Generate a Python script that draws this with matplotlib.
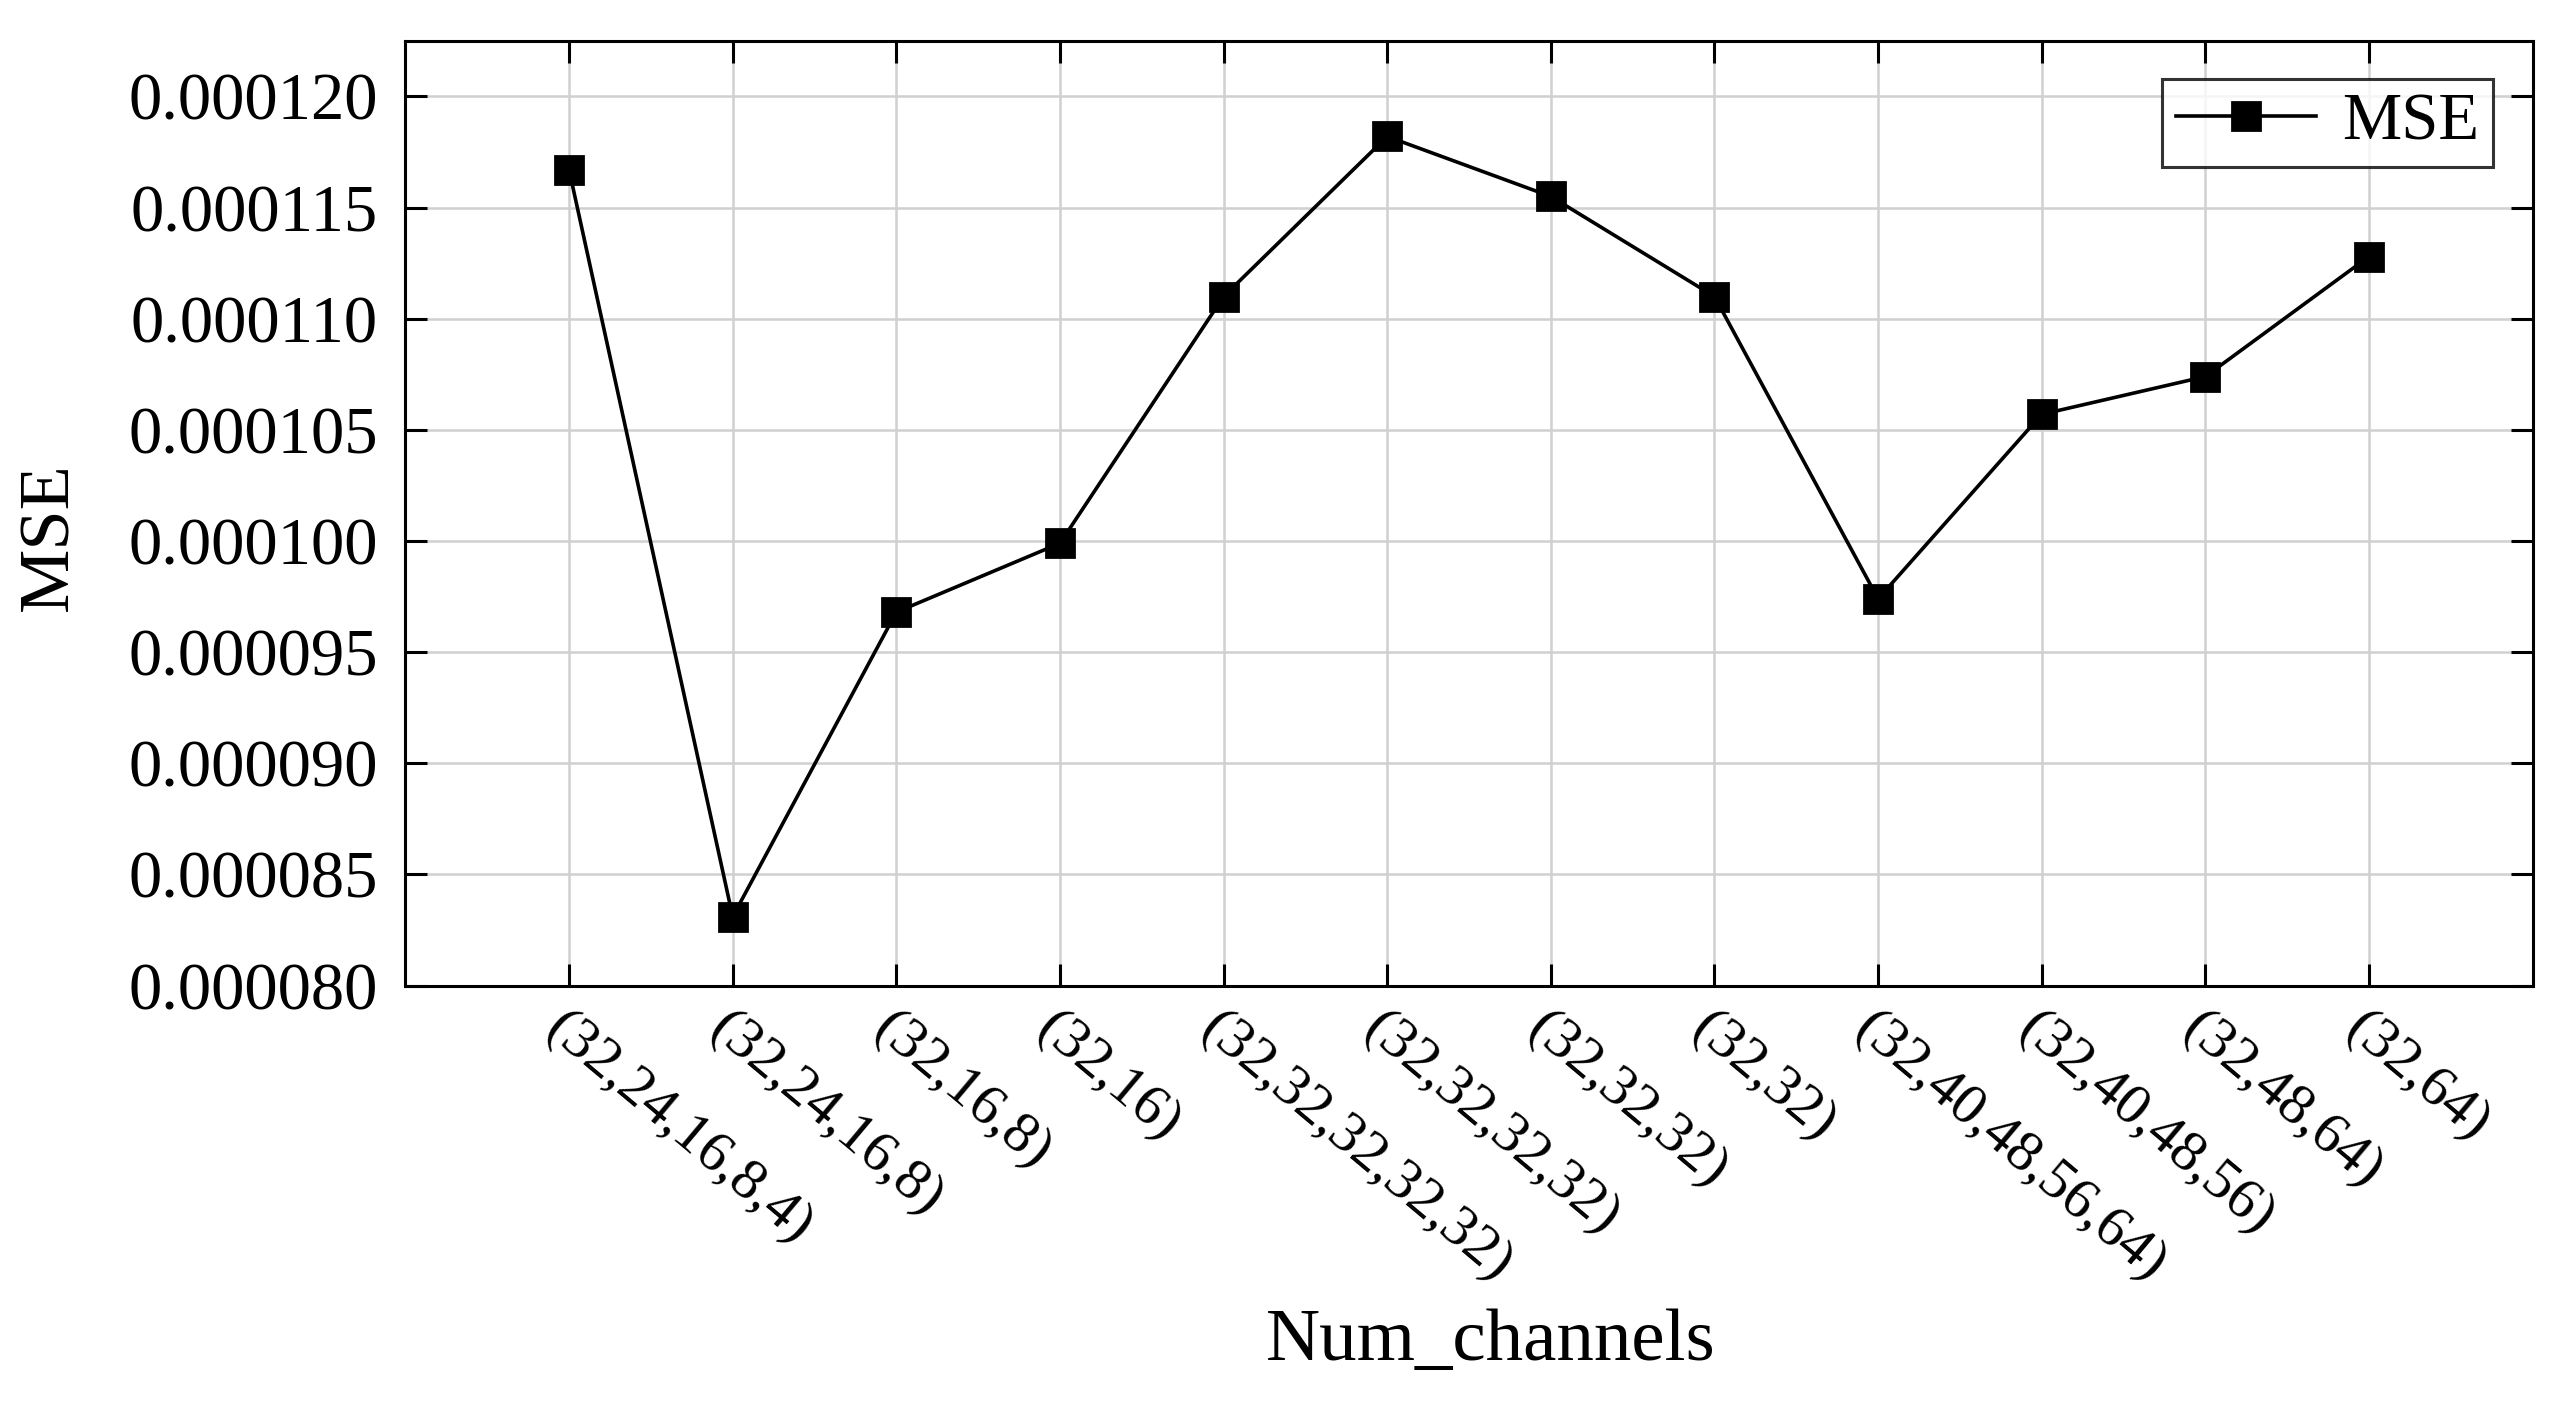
import matplotlib
matplotlib.use("Agg")
import matplotlib.pyplot as plt
from matplotlib.ticker import FormatStrFormatter, MultipleLocator

channels = ["(32,24,16,8,4)", "(32,24,16,8)", "(32,16,8)", "(32,16)",
            "(32,32,32,32,32)", "(32,32,32,32)", "(32,32,32)", "(32,32)",
            "(32,40,48,56,64)", "(32,40,48,56)", "(32,48,64)", "(32,64)"]
mse = [0.0001167, 0.0000831, 0.0000968, 0.0000999, 0.0001110, 0.0001182,
       0.0001155, 0.0001110, 0.0000974, 0.0001057, 0.0001074, 0.0001128]

plt.rcParams['font.family'] = ['Liberation Serif', 'DejaVu Serif']

fig, ax = plt.subplots(figsize=(12.83, 7.05), dpi=200)
fig.subplots_adjust(left=0.158, right=0.987, top=0.971, bottom=0.301)

x = list(range(1, len(channels) + 1))
ax.plot(x, mse, color='black', linewidth=1.3, marker='s', markersize=10,
        label='MSE', zorder=3)

ax.set_xlim(0, len(channels) + 1)
ax.set_ylim(0.000080, 0.0001225)
ax.yaxis.set_major_locator(MultipleLocator(0.000005))
ax.yaxis.set_major_formatter(FormatStrFormatter('%.6f'))
ax.set_xticks(x)
ax.set_xticklabels(channels, rotation=-40, ha='left', va='top',
                   rotation_mode='anchor', fontsize=21)

ax.tick_params(axis='both', which='major', direction='in', length=8,
               width=1.1, top=True, right=True, labelsize=24, pad=10)
ax.tick_params(axis='x', labelsize=21, pad=6)

ax.grid(True, color='#d0d0d0', linewidth=0.9)
ax.set_axisbelow(True)
for sp in ax.spines.values():
    sp.set_linewidth(1.1)

ax.set_ylabel('MSE', fontsize=26)
ax.yaxis.set_label_coords(-0.152, 0.475)
ax.set_xlabel('Num_channels', fontsize=27)
ax.xaxis.set_label_coords(0.51, -0.342)

leg = ax.legend(loc='upper right', fontsize=24, frameon=True, fancybox=False,
                handlelength=2.1, borderpad=0.2, handletextpad=0.4,
                bbox_to_anchor=(0.997, 0.995))
leg.get_frame().set_edgecolor('black')
leg.get_frame().set_linewidth(1.1)

fig.savefig('out.png', dpi=200, facecolor='white')
